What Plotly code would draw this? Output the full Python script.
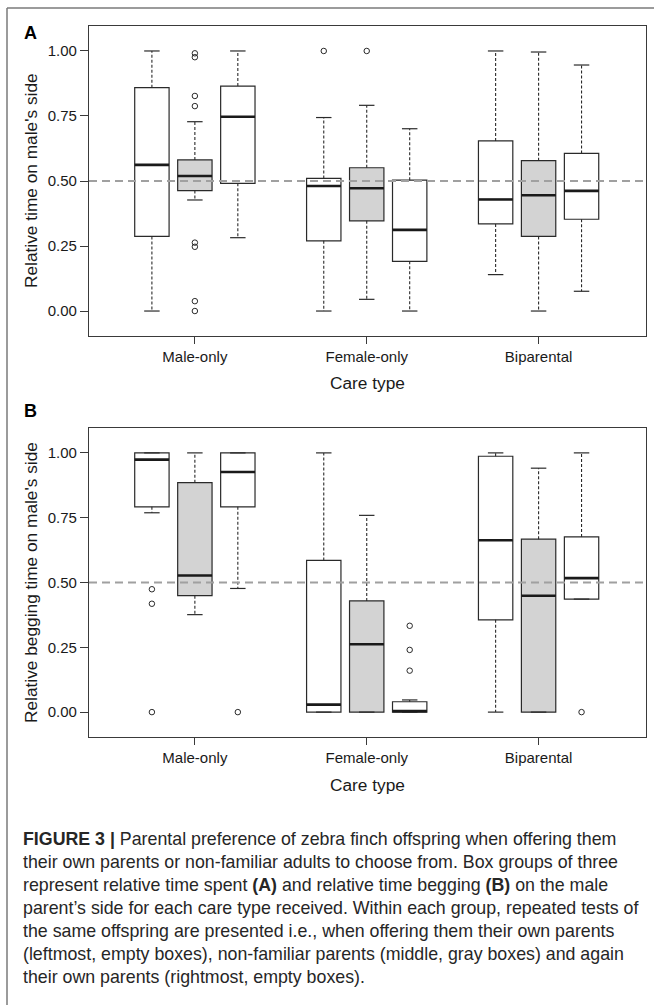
import plotly.graph_objects as go

# ---------------- data ----------------
CATEGORIES = ["Male-only", "Female-only", "Biparental"]
TESTS = ["Own parents", "Non-familiar parents", "Own parents again"]
TEST_FILLS = ["white", "#d3d3d3", "white"]

Y_TICKS = [0.0, 0.25, 0.5, 0.75, 1.0]
Y_TICK_TEXT = ["0.00", "0.25", "0.50", "0.75", "1.00"]
REF_LEVEL = 0.5

# Panel A: relative time on male's side (order: group, then test)
A_LOW = [0.000, 0.427, 0.282, 0.000, 0.045, 0.000, 0.140, 0.000, 0.076]
A_Q1 = [0.287, 0.463, 0.491, 0.270, 0.347, 0.191, 0.335, 0.287, 0.353]
A_MED = [0.562, 0.519, 0.747, 0.481, 0.472, 0.312, 0.429, 0.445, 0.462]
A_Q3 = [0.859, 0.581, 0.865, 0.510, 0.551, 0.503, 0.654, 0.578, 0.606]
A_HIGH = [1.000, 0.728, 1.000, 0.744, 0.791, 0.701, 1.000, 0.996, 0.946]
A_OUT = [[], [0.991, 0.976, 0.827, 0.788, 0.263, 0.247, 0.038, 0.000], [],
         [1.000], [1.000], [],
         [], [], []]

# Panel B: relative begging time on male's side
B_LOW = [0.769, 0.376, 0.477, 0.000, 0.000, 0.000, 0.000, 0.000, 0.436]
B_Q1 = [0.792, 0.449, 0.792, 0.000, 0.000, 0.000, 0.356, 0.000, 0.436]
B_MED = [0.974, 0.527, 0.926, 0.029, 0.262, 0.004, 0.663, 0.449, 0.517]
B_Q3 = [1.000, 0.885, 1.000, 0.585, 0.429, 0.040, 0.987, 0.667, 0.676]
B_HIGH = [1.000, 1.000, 1.000, 1.000, 0.759, 0.047, 1.000, 0.941, 1.000]
B_OUT = [[0.474, 0.418, 0.000], [], [0.000],
         [], [], [0.333, 0.240, 0.160],
         [], [], [0.000]]

CAPTION_LINES = [
    "<b>FIGURE 3 |</b> Parental preference of zebra finch offspring when offering them",
    "their own parents or non-familiar adults to choose from. Box groups of three",
    "represent relative time spent <b>(A)</b> and relative time begging <b>(B)</b> on the male",
    "parent\u2019s side for each care type received. Within each group, repeated tests of",
    "the same offspring are presented i.e., when offering them their own parents",
    "(leftmost, empty boxes), non-familiar parents (middle, gray boxes) and again",
    "their own parents (rightmost, empty boxes).",
]

# ---------------- layout helpers ----------------
W, H = 654, 1005
FONT = "Liberation Sans, Arial, sans-serif"
DARK = "#2a2a2a"
OFFSETS = [-0.25, 0.0, 0.25]
BOX_W = 0.2
CAP = 0.045


def px(x):
    return x / W


def py(y):
    return 1 - y / H


fig = go.Figure()


def add_panel(xa, ya, low, q1, med, q3, high, outs):
    xref = "x" if xa == "xaxis" else "x2"
    yref = "y" if ya == "yaxis" else "y2"
    k = 0
    for gi in range(len(CATEGORIES)):
        for ti in range(len(TESTS)):
            pos = gi + 1 + OFFSETS[ti]
            # whiskers (dashed)
            fig.add_trace(go.Scatter(
                x=[pos, pos, None, pos, pos],
                y=[q3[k], high[k], None, q1[k], low[k]],
                mode="lines", line=dict(color=DARK, width=1.1, dash="3px,2px"),
                xaxis=xref, yaxis=yref, showlegend=False, hoverinfo="skip"))
            # staples
            fig.add_trace(go.Scatter(
                x=[pos - CAP, pos + CAP, None, pos - CAP, pos + CAP],
                y=[high[k], high[k], None, low[k], low[k]],
                mode="lines", line=dict(color=DARK, width=1.2),
                xaxis=xref, yaxis=yref, showlegend=False, hoverinfo="skip"))
            # box
            fig.add_trace(go.Box(
                x=[pos], q1=[q1[k]], median=[med[k]], q3=[q3[k]],
                lowerfence=[q1[k]], upperfence=[q3[k]],
                width=BOX_W, whiskerwidth=0, fillcolor=TEST_FILLS[ti],
                line=dict(color=DARK, width=1.2), boxpoints=False,
                xaxis=xref, yaxis=yref, showlegend=False, hoverinfo="skip"))
            # thick median
            fig.add_trace(go.Scatter(
                x=[pos - BOX_W / 2, pos + BOX_W / 2], y=[med[k], med[k]],
                mode="lines", line=dict(color="#1a1a1a", width=2.6),
                xaxis=xref, yaxis=yref, showlegend=False, hoverinfo="skip"))
            # outliers
            if outs[k]:
                fig.add_trace(go.Scatter(
                    x=[pos] * len(outs[k]), y=outs[k], mode="markers",
                    marker=dict(symbol="circle-open", size=5.5, color=DARK,
                                line=dict(width=1, color=DARK)),
                    xaxis=xref, yaxis=yref, showlegend=False, hoverinfo="skip"))
            k += 1
    fig.add_shape(type="line", xref=f"{xref} domain", yref=yref,
                  x0=0, x1=1, y0=REF_LEVEL, y1=REF_LEVEL,
                  line=dict(color="#a0a0a0", width=2, dash="8px,5px"),
                  layer="above")


add_panel("xaxis", "yaxis", A_LOW, A_Q1, A_MED, A_Q3, A_HIGH, A_OUT)
add_panel("xaxis2", "yaxis2", B_LOW, B_Q1, B_MED, B_Q3, B_HIGH, B_OUT)

XR = [0.384, 3.625]
YR = [-0.096, 1.096]
xdom = [px(89), px(646)]

axis_common = dict(showline=True, mirror=True, linecolor="#3a3a3a", linewidth=1.2,
                   ticks="outside", tickcolor="#3a3a3a", tickwidth=1.1,
                   showgrid=False, zeroline=False,
                   tickfont=dict(family=FONT, size=15, color="#1a1a1a"))

fig.update_layout(
    width=W, height=H,
    margin=dict(l=0, r=0, t=0, b=0),
    paper_bgcolor="white", plot_bgcolor="white",
    boxmode="overlay",
    showlegend=False,
    xaxis=dict(domain=xdom, range=XR, anchor="y", tickvals=[1, 2, 3],
               ticktext=CATEGORIES, ticklen=7, **axis_common),
    yaxis=dict(domain=[py(336), py(26)], range=YR, anchor="x",
               tickvals=Y_TICKS, ticktext=Y_TICK_TEXT, ticklen=8, **axis_common),
    xaxis2=dict(domain=xdom, range=XR, anchor="y2", tickvals=[1, 2, 3],
                ticktext=CATEGORIES, ticklen=7, **axis_common),
    yaxis2=dict(domain=[py(737), py(428)], range=YR, anchor="x2",
                tickvals=Y_TICKS, ticktext=Y_TICK_TEXT, ticklen=8, **axis_common),
)

ann = []
title_font = dict(family=FONT, size=17.3, color="#1a1a1a")
ann.append(dict(text="Relative time on male's side", x=px(31), y=py(181),
                textangle=-90, font=title_font))
ann.append(dict(text="Relative begging time on male's side", x=px(31), y=py(583),
                textangle=-90, font=title_font))
ann.append(dict(text="Care type", x=px(367.5), y=py(383), font=title_font))
ann.append(dict(text="Care type", x=px(367.5), y=py(785), font=title_font))
ann.append(dict(text="<b>A</b>", x=px(22), y=py(33), xanchor="left",
                font=dict(family=FONT, size=18, color="black")))
ann.append(dict(text="<b>B</b>", x=px(22), y=py(411), xanchor="left",
                font=dict(family=FONT, size=18, color="black")))
for i, line in enumerate(CAPTION_LINES):
    ann.append(dict(text=line, x=px(21), y=py(839 + 23 * i), xanchor="left",
                    font=dict(family=FONT, size=17.8, color="#262626")))
for a in ann:
    a.setdefault("xanchor", "center")
    a.update(xref="paper", yref="paper", yanchor="middle", showarrow=False)
fig.update_layout(annotations=ann)

# outer figure frame (top and left edges)
fig.add_shape(type="line", xref="paper", yref="paper", x0=px(7), x1=1.01,
              y0=py(8), y1=py(8), line=dict(color="#7a7a7a", width=1.5))
fig.add_shape(type="line", xref="paper", yref="paper", x0=px(7), x1=px(7),
              y0=py(8), y1=-0.01, line=dict(color="#7a7a7a", width=1.5))

fig.write_html("out.html", config={"displayModeBar": False},
               post_script="document.body.style.margin='0';")
